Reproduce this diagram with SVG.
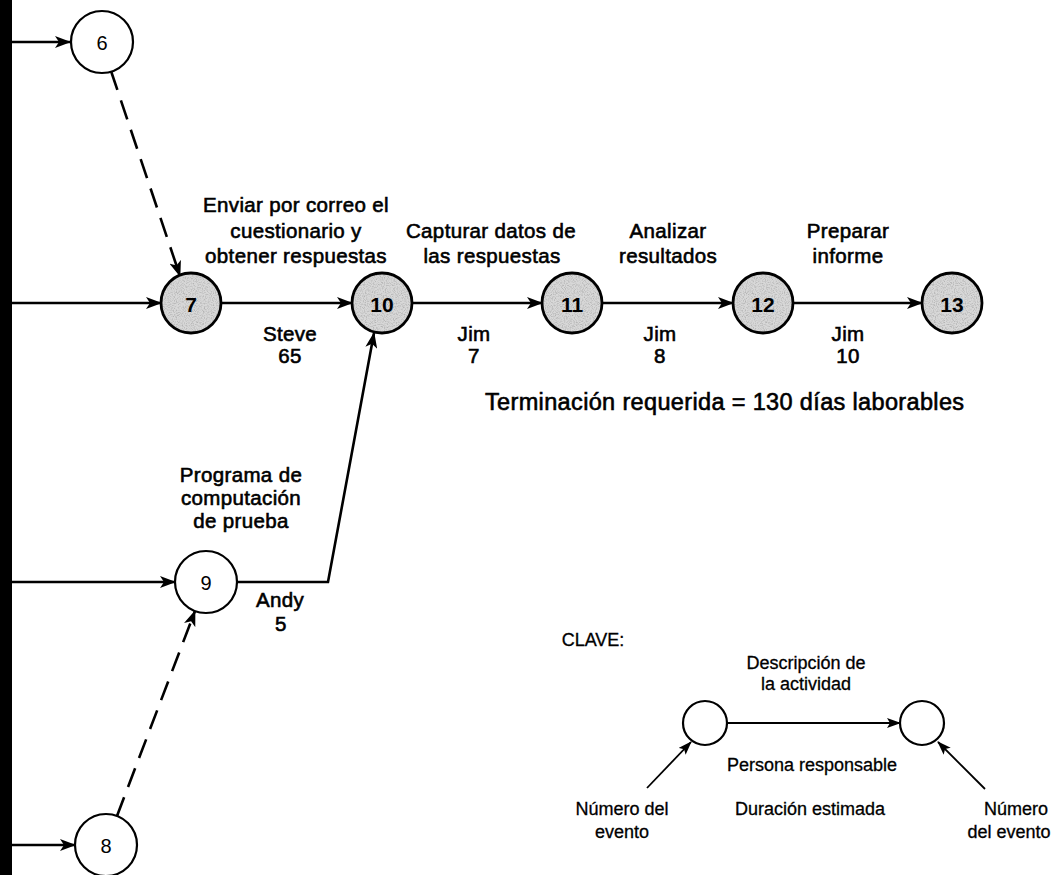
<svg xmlns="http://www.w3.org/2000/svg" width="1053" height="875" viewBox="0 0 1053 875">
  <style>
    .lbl { font-family: "Liberation Sans", Arial, sans-serif; font-size: 20.5px; letter-spacing: 0.35px; fill: #000; stroke: #000; stroke-width: 0.6; text-anchor: middle; }
    .big { font-size: 23.5px; text-anchor: start; }
    .key { font-family: "Liberation Sans", Arial, sans-serif; font-size: 18px; fill: #000; stroke: #000; stroke-width: 0.3; text-anchor: middle; }
    .num { font-family: "Liberation Sans", Arial, sans-serif; font-size: 20px; fill: #000; text-anchor: middle; dominant-baseline: central; }
    .numb { font-weight: bold; font-size: 21px; }
    .ev { fill: #fff; stroke: #000; stroke-width: 2.2; }
    .shade { fill: #d8d8d8; stroke: none; filter: url(#grain); }
    .rim { fill: none; stroke: #000; stroke-width: 2.8; }
    .ln { fill: none; stroke: #000; stroke-width: 2.6; marker-end: url(#ah); }
    .dash { fill: none; stroke: #000; stroke-width: 2.6; stroke-dasharray: 20 11; marker-end: url(#ah); }
    .kln { fill: none; stroke: #000; stroke-width: 1.8; marker-end: url(#ahs); }
  </style>
  <defs>
    <marker id="ah" markerUnits="userSpaceOnUse" markerWidth="16" markerHeight="12" refX="15" refY="6" orient="auto">
      <path d="M0,0 L16,6 L0,12 L4,6 z" fill="#000"/>
    </marker>
    <marker id="ahs" markerUnits="userSpaceOnUse" markerWidth="14" markerHeight="10" refX="13" refY="5" orient="auto">
      <path d="M0,0 L14,5 L0,10 L3,5 z" fill="#000"/>
    </marker>
    <!-- speckled halftone for the critical-path events -->
    <filter id="grain" x="0" y="0" width="100%" height="100%">
      <feTurbulence type="fractalNoise" baseFrequency="0.9" numOctaves="2" seed="3" result="n"/>
      <feColorMatrix in="n" type="matrix" values="0 0 0 0 0.45  0 0 0 0 0.45  0 0 0 0 0.45  0 0 0 2.6 -1.1" result="g"/>
      <feComposite in="g" in2="SourceAlpha" operator="in" result="gc"/>
      <feMerge><feMergeNode in="SourceGraphic"/><feMergeNode in="gc"/></feMerge>
    </filter>
  </defs>

  <rect width="1053" height="875" fill="#fff"/>

  <!-- heavy vertical bus on the left edge -->
  <rect x="0" y="0" width="12" height="875" fill="#000"/>

  <g id="connectors">
    <line class="ln" x1="12" y1="42" x2="70" y2="42"/>
    <line class="ln" x1="12" y1="303" x2="161" y2="303"/>
    <line class="ln" x1="12" y1="582" x2="175" y2="582"/>
    <line class="ln" x1="12" y1="845" x2="75" y2="845"/>
    <line class="dash" x1="111" y1="71" x2="180" y2="276"/>
    <line class="dash" x1="117" y1="816" x2="195" y2="611"/>
    <polyline class="ln" points="237,582 328,582 374,333"/>
    <line class="ln" x1="221" y1="303" x2="352" y2="303"/>
    <line class="ln" x1="412" y1="303" x2="542" y2="303"/>
    <line class="ln" x1="602" y1="303" x2="733" y2="303"/>
    <line class="ln" x1="793" y1="303" x2="922" y2="303"/>
  </g>

  <g id="node-6"><circle class="ev" cx="102" cy="42" r="31"/><text class="num" x="102" y="43">6</text></g>
  <g id="node-7"><circle class="shade" cx="191" cy="303" r="30"/><circle class="rim" cx="191" cy="303" r="30"/><text class="num numb" x="191" y="304">7</text></g>
  <g id="node-10"><circle class="shade" cx="382" cy="303" r="30"/><circle class="rim" cx="382" cy="303" r="30"/><text class="num numb" x="382" y="304">10</text></g>
  <g id="node-11"><circle class="shade" cx="572" cy="303" r="30"/><circle class="rim" cx="572" cy="303" r="30"/><text class="num numb" x="572" y="304">11</text></g>
  <g id="node-12"><circle class="shade" cx="763" cy="303" r="30"/><circle class="rim" cx="763" cy="303" r="30"/><text class="num numb" x="763" y="304">12</text></g>
  <g id="node-13"><circle class="shade" cx="952" cy="303" r="30"/><circle class="rim" cx="952" cy="303" r="30"/><text class="num numb" x="952" y="304">13</text></g>
  <g id="node-9"><circle class="ev" cx="206" cy="582" r="31"/><text class="num" x="206" y="583">9</text></g>
  <g id="node-8"><circle class="ev" cx="106" cy="845" r="31"/><text class="num" x="106" y="846">8</text></g>

  <g id="activity-labels">
    <text class="lbl" x="296" y="212">Enviar por correo el</text>
    <text class="lbl" x="296" y="238">cuestionario y</text>
    <text class="lbl" x="296" y="263">obtener respuestas</text>
    <text class="lbl" x="491" y="238">Capturar datos de</text>
    <text class="lbl" x="492" y="263">las respuestas</text>
    <text class="lbl" x="668" y="238">Analizar</text>
    <text class="lbl" x="668" y="263">resultados</text>
    <text class="lbl" x="848" y="238">Preparar</text>
    <text class="lbl" x="848" y="263">informe</text>

    <text class="lbl" x="290" y="341">Steve</text>
    <text class="lbl" x="290" y="363">65</text>
    <text class="lbl" x="474" y="341">Jim</text>
    <text class="lbl" x="474" y="363">7</text>
    <text class="lbl" x="660" y="341">Jim</text>
    <text class="lbl" x="660" y="363">8</text>
    <text class="lbl" x="848" y="341">Jim</text>
    <text class="lbl" x="848" y="363">10</text>

    <text class="lbl big" x="485" y="410">Terminación requerida = 130 días laborables</text>

    <text class="lbl" x="241" y="482">Programa de</text>
    <text class="lbl" x="241" y="505">computación</text>
    <text class="lbl" x="241" y="528">de prueba</text>
    <text class="lbl" x="280" y="607">Andy</text>
    <text class="lbl" x="281" y="631">5</text>
  </g>

  <g id="legend">
    <text class="key" x="593" y="646" text-anchor="start" font-size="14.5">CLAVE:</text>
    <text class="key" x="806" y="669">Descripción de</text>
    <text class="key" x="806" y="690">la actividad</text>
    <g id="key-node-a"><circle class="ev" cx="705" cy="723" r="22" stroke-width="1.8"/></g>
    <g id="key-node-b"><circle class="ev" cx="922" cy="723" r="22" stroke-width="1.8"/></g>
    <line class="kln" x1="727" y1="723" x2="900" y2="723"/>
    <line class="kln" x1="647" y1="788" x2="691" y2="742"/>
    <line class="kln" x1="985" y1="789" x2="938" y2="742"/>
    <text class="key" x="812" y="771">Persona responsable</text>
    <text class="key" x="810" y="815">Duración estimada</text>
    <text class="key" x="622" y="815">Número del</text>
    <text class="key" x="622" y="838">evento</text>
    <text class="key" x="1016" y="815">Número</text>
    <text class="key" x="1009" y="838">del evento</text>
  </g>
</svg>
